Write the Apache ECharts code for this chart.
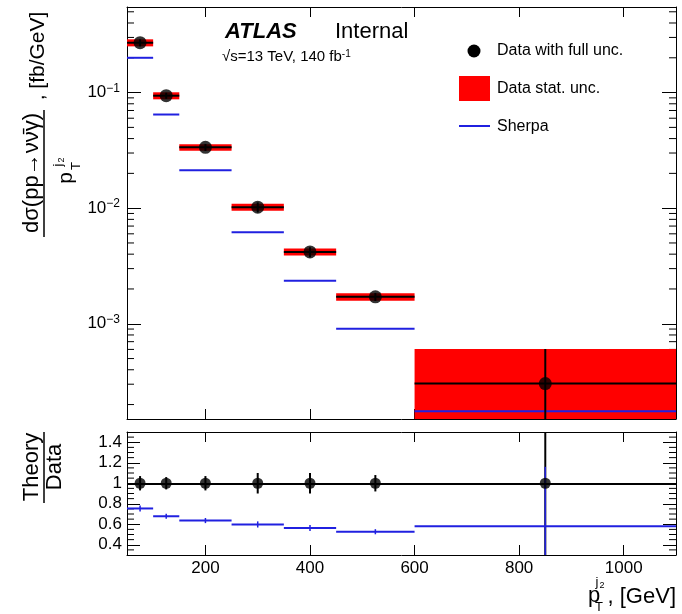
<!DOCTYPE html>
<html>
<head>
<meta charset="utf-8">
<script src="https://cdn.jsdelivr.net/npm/echarts@6/dist/echarts.min.js"></script>
<style>
  html, body { margin: 0; padding: 0; background: #fff; }
  #chart { width: 682px; height: 614px; }
</style>
</head>
<body>
<div id="chart"></div>
<script>
// bins of p_T^{j2} [GeV]
const binLo = [50, 100, 150, 250, 350, 450, 600]
const binHi = [100, 150, 250, 350, 450, 600, 1100]
const binCenter = [75, 125, 200, 300, 400, 525, 850]
// measured cross section [fb/GeV] and relative uncertainties
const dataXsec = [0.27, 0.094, 0.0336, 0.0102, 0.00418, 0.00171, 0.000304]
const statUnc = [0.07, 0.07, 0.065, 0.07, 0.07, 0.075, 0.99]
const fullUnc = [0.07, 0.06, 0.07, 0.10, 0.10, 0.08, 0.99]
// Sherpa prediction
const sherpaXsec = [0.20, 0.0646, 0.0213, 0.0062, 0.00235, 0.000906, 0.000175]
// ratio panel
const ratioData = [1, 1, 1, 1, 1, 1, 1]
const sherpaRatio = [0.754, 0.678, 0.636, 0.598, 0.563, 0.527, 0.58]
const sherpaRatioErr = [0.03, 0.025, 0.025, 0.03, 0.03, 0.025, 0.58]
// tick labels
const xTicks = [200, 400, 600, 800, 1000]
const logTicks = [1e-3, 1e-2, 1e-1]
const ratioTicks = [0.4, 0.6, 0.8, 1, 1.2, 1.4]
const ratioMinor = [0.35, 0.45, 0.5, 0.55, 0.65, 0.7, 0.75, 0.85, 0.9, 0.95, 1.05, 1.1, 1.15, 1.25, 1.3, 1.35, 1.45]
const logMinor = []
for (const d of [1e-4, 1e-3, 1e-2, 1e-1]) {
  for (let k = 2; k <= 9; k++) {
    const v = k * d
    if (v > 1.5e-4 && v < 0.55) logMinor.push(v)
  }
}

const FONT = '"Liberation Sans", Arial, Helvetica, sans-serif'
const RED = '#ff0000'
const BLUE = '#2020e0'

const chart = echarts.init(document.getElementById('chart'))

function clampY (y, cs) {
  return Math.max(cs.y, Math.min(cs.y + cs.height, y))
}
function line (x1, y1, x2, y2, color, width) {
  return { type: 'line', shape: { x1, y1, x2, y2 }, style: { stroke: color, lineWidth: width } }
}

function xAxis (gridIndex, position, labels) {
  return {
    type: 'value',
    gridIndex,
    position,
    min: 50,
    max: 1100,
    axisLine: { show: true, onZero: false, lineStyle: { color: '#000', width: 1 } },
    axisTick: { show: true, inside: true, length: 10, customValues: xTicks, lineStyle: { color: '#000' } },
    axisLabel: {
      show: labels,
      customValues: xTicks,
      formatter: v => String(v),
      color: '#000',
      fontSize: 17,
      fontFamily: FONT,
      margin: 5
    },
    splitLine: { show: false }
  }
}
function logAxis (position, labels) {
  return {
    type: 'log',
    gridIndex: 0,
    position,
    min: 1.5e-4,
    max: 0.55,
    axisLine: { show: true, onZero: false, lineStyle: { color: '#000', width: 1 } },
    axisTick: { show: true, inside: true, length: 14, customValues: logTicks, lineStyle: { color: '#000' } },
    axisLabel: {
      show: labels,
      customValues: logTicks,
      margin: 7,
      formatter: v => '{b|10}{e|−' + Math.round(-Math.log10(v)) + '}',
      rich: {
        b: { fontSize: 17, fontFamily: FONT, color: '#000', lineHeight: 20 },
        e: { fontSize: 12, fontFamily: FONT, color: '#000', verticalAlign: 'top', lineHeight: 12 }
      }
    },
    splitLine: { show: false }
  }
}
function ratioAxis (position, labels) {
  return {
    type: 'value',
    gridIndex: 1,
    position,
    min: 0.3,
    max: 1.5,
    axisLine: { show: true, onZero: false, lineStyle: { color: '#000', width: 1 } },
    axisTick: { show: true, inside: true, length: 13, customValues: ratioTicks, lineStyle: { color: '#000' } },
    axisLabel: { show: labels, customValues: ratioTicks, color: '#000', fontSize: 17, fontFamily: FONT, margin: 5 },
    splitLine: { show: false }
  }
}

// minor ticks on left and right frame
function minorTicks (len) {
  return function (params, api) {
    const cs = params.coordSys
    const p = api.coord([api.value(0), api.value(1)])
    return {
      type: 'group',
      children: [
        line(cs.x, p[1], cs.x + len, p[1], '#000', 1),
        line(cs.x + cs.width, p[1], cs.x + cs.width - len, p[1], '#000', 1)
      ]
    }
  }
}

const binItems = binLo.map((lo, i) => [lo, binHi[i], binCenter[i]])

chart.setOption({
  animation: false,
  backgroundColor: '#fff',
  grid: [
    { left: 127, top: 7, width: 549, height: 412 },
    { left: 127, top: 432, width: 549, height: 123 }
  ],
  xAxis: [
    xAxis(0, 'bottom', false),
    xAxis(0, 'top', false),
    xAxis(1, 'bottom', true),
    xAxis(1, 'top', false)
  ],
  yAxis: [
    logAxis('left', true),
    logAxis('right', false),
    ratioAxis('left', true),
    ratioAxis('right', false)
  ],
  series: [
    {
      type: 'custom',
      xAxisIndex: 0,
      yAxisIndex: 0,
      data: logMinor.map(v => [100, v]),
      renderItem: minorTicks(7),
      silent: true
    },
    {
      type: 'custom',
      xAxisIndex: 2,
      yAxisIndex: 2,
      data: ratioMinor.map(v => [100, v]),
      renderItem: minorTicks(7),
      silent: true
    },
    // stat. uncertainty band
    {
      name: 'Data stat. unc.',
      type: 'custom',
      xAxisIndex: 0,
      yAxisIndex: 0,
      encode: { x: [0, 1], y: 2 },
      data: binItems.map((b, i) => [b[0], b[1], dataXsec[i], statUnc[i]]),
      renderItem (params, api) {
        const cs = params.coordSys
        const v = api.value(2)
        const u = api.value(3)
        const p1 = api.coord([api.value(0), v * (1 + u)])
        const p2 = api.coord([api.value(1), v * (1 - u)])
        const y1 = clampY(p1[1], cs)
        const y2 = clampY(p2[1], cs)
        return { type: 'rect', shape: { x: p1[0], y: y1, width: p2[0] - p1[0], height: y2 - y1 }, style: { fill: RED } }
      }
    },
    // Sherpa
    {
      name: 'Sherpa',
      type: 'custom',
      xAxisIndex: 0,
      yAxisIndex: 0,
      encode: { x: [0, 1], y: 2 },
      data: binItems.map((b, i) => [b[0], b[1], sherpaXsec[i]]),
      renderItem (params, api) {
        const a = api.coord([api.value(0), api.value(2)])
        const b = api.coord([api.value(1), api.value(2)])
        return line(a[0], a[1], b[0], b[1], BLUE, 2)
      }
    },
    // data error bars
    {
      type: 'custom',
      xAxisIndex: 0,
      yAxisIndex: 0,
      encode: { x: [0, 1, 2], y: 3 },
      data: binItems.map((b, i) => [b[0], b[1], b[2], dataXsec[i], fullUnc[i]]),
      renderItem (params, api) {
        const cs = params.coordSys
        const v = api.value(3)
        const u = api.value(4)
        const a = api.coord([api.value(0), v])
        const b = api.coord([api.value(1), v])
        const up = api.coord([api.value(2), v * (1 + u)])
        const dn = api.coord([api.value(2), v * (1 - u)])
        return {
          type: 'group',
          children: [
            line(a[0], a[1], b[0], b[1], '#000', 2),
            line(up[0], clampY(up[1], cs), dn[0], clampY(dn[1], cs), '#000', 2)
          ]
        }
      }
    },
    {
      name: 'Data with full unc.',
      type: 'scatter',
      xAxisIndex: 0,
      yAxisIndex: 0,
      symbol: 'circle',
      symbolSize: 13,
      itemStyle: { color: '#000' },
      data: binCenter.map((c, i) => [c, dataXsec[i]])
    },
    // ratio: data
    {
      type: 'custom',
      xAxisIndex: 2,
      yAxisIndex: 2,
      encode: { x: 0, y: 1 },
      data: binCenter.map((c, i) => [c, ratioData[i], fullUnc[i]]),
      renderItem (params, api) {
        const cs = params.coordSys
        const v = api.value(1)
        const u = api.value(2)
        const up = api.coord([api.value(0), v + u])
        const dn = api.coord([api.value(0), v - u])
        return line(up[0], clampY(up[1], cs), dn[0], clampY(dn[1], cs), '#000', 2)
      }
    },
    {
      type: 'scatter',
      xAxisIndex: 2,
      yAxisIndex: 2,
      symbol: 'circle',
      symbolSize: 11,
      itemStyle: { color: '#000' },
      data: binCenter.map((c, i) => [c, ratioData[i]]),
      markLine: {
        silent: true,
        symbol: 'none',
        label: { show: false },
        lineStyle: { color: '#000', width: 2, type: 'solid' },
        data: [{ yAxis: 1 }]
      }
    },
    // ratio: Sherpa / data
    {
      type: 'custom',
      xAxisIndex: 2,
      yAxisIndex: 2,
      encode: { x: [0, 1, 2], y: 3 },
      data: binItems.map((b, i) => [b[0], b[1], b[2], sherpaRatio[i], sherpaRatioErr[i]]),
      renderItem (params, api) {
        const cs = params.coordSys
        const v = api.value(3)
        const e = api.value(4)
        const a = api.coord([api.value(0), v])
        const b = api.coord([api.value(1), v])
        const up = api.coord([api.value(2), v + e])
        const dn = api.coord([api.value(2), v - e])
        return {
          type: 'group',
          children: [
            line(a[0], a[1], b[0], b[1], BLUE, 2),
            line(up[0], clampY(up[1], cs), dn[0], clampY(dn[1], cs), BLUE, 1.5)
          ]
        }
      }
    }
  ],
  graphic: [
    // ATLAS label
    { type: 'text', x: 225, y: 32, style: { text: 'ATLAS', font: 'italic bold 22px ' + FONT, fill: '#000', verticalAlign: 'middle' } },
    { type: 'text', x: 335, y: 32, style: { text: 'Internal', font: '22px ' + FONT, fill: '#000', verticalAlign: 'middle' } },
    {
      type: 'text',
      x: 222,
      y: 57,
      style: {
        text: '√s=13 TeV, 140 fb{sup|-1}',
        font: '15px ' + FONT,
        fill: '#000',
        verticalAlign: 'middle',
        rich: { sup: { fontSize: 10, fontFamily: FONT, verticalAlign: 'top', lineHeight: 10 } }
      }
    },
    // legend
    { type: 'circle', shape: { cx: 474, cy: 51, r: 6.5 }, style: { fill: '#000' } },
    { type: 'text', x: 497, y: 51, style: { text: 'Data with full unc.', font: '16px ' + FONT, fill: '#000', verticalAlign: 'middle' } },
    { type: 'rect', shape: { x: 459, y: 76, width: 31, height: 25 }, style: { fill: RED } },
    { type: 'text', x: 497, y: 89, style: { text: 'Data stat. unc.', font: '16px ' + FONT, fill: '#000', verticalAlign: 'middle' } },
    { type: 'line', shape: { x1: 459, y1: 126, x2: 490, y2: 126 }, style: { stroke: BLUE, lineWidth: 2 } },
    { type: 'text', x: 497, y: 127, style: { text: 'Sherpa', font: '16px ' + FONT, fill: '#000', verticalAlign: 'middle' } },
    // top y title
    { type: 'text', x: 32, y: 173, rotation: Math.PI / 2, style: { text: 'dσ(pp→νν̄γ)', font: '22px ' + FONT, fill: '#000', align: 'center', verticalAlign: 'middle' } },
    { type: 'line', shape: { x1: 44, y1: 110, x2: 44, y2: 237 }, style: { stroke: '#000', lineWidth: 1.5 } },
    { type: 'text', x: 66, y: 178, rotation: Math.PI / 2, style: { text: 'p', font: '21px ' + FONT, fill: '#000', align: 'center', verticalAlign: 'middle' } },
    { type: 'text', x: 76, y: 166, rotation: Math.PI / 2, style: { text: 'T', font: '13px ' + FONT, fill: '#000', align: 'center', verticalAlign: 'middle' } },
    { type: 'text', x: 58, y: 165, rotation: Math.PI / 2, style: { text: 'j', font: '13px ' + FONT, fill: '#000', align: 'center', verticalAlign: 'middle' } },
    { type: 'text', x: 62, y: 160, rotation: Math.PI / 2, style: { text: '2', font: '9px ' + FONT, fill: '#000', align: 'center', verticalAlign: 'middle' } },
    { type: 'text', x: 38, y: 56, rotation: Math.PI / 2, style: { text: ', [fb/GeV]', font: '21px ' + FONT, fill: '#000', align: 'center', verticalAlign: 'middle' } },
    // ratio y title
    { type: 'text', x: 32, y: 467, rotation: Math.PI / 2, style: { text: 'Theory', font: '22px ' + FONT, fill: '#000', align: 'center', verticalAlign: 'middle' } },
    { type: 'line', shape: { x1: 44, y1: 432, x2: 44, y2: 503 }, style: { stroke: '#000', lineWidth: 1.5 } },
    { type: 'text', x: 55, y: 467, rotation: Math.PI / 2, style: { text: 'Data', font: '22px ' + FONT, fill: '#000', align: 'center', verticalAlign: 'middle' } },
    // x title
    { type: 'text', x: 676, y: 597, style: { text: ', [GeV]', font: '22px ' + FONT, fill: '#000', align: 'right', verticalAlign: 'middle' } },
    { type: 'text', x: 594, y: 596, style: { text: 'p', font: '22px ' + FONT, fill: '#000', align: 'center', verticalAlign: 'middle' } },
    { type: 'text', x: 599, y: 607, style: { text: 'T', font: '13px ' + FONT, fill: '#000', align: 'center', verticalAlign: 'middle' } },
    { type: 'text', x: 597, y: 582, style: { text: 'j', font: '13px ' + FONT, fill: '#000', align: 'center', verticalAlign: 'middle' } },
    { type: 'text', x: 602, y: 586, style: { text: '2', font: '9px ' + FONT, fill: '#000', align: 'center', verticalAlign: 'middle' } }
  ]
})
</script>
</body>
</html>
